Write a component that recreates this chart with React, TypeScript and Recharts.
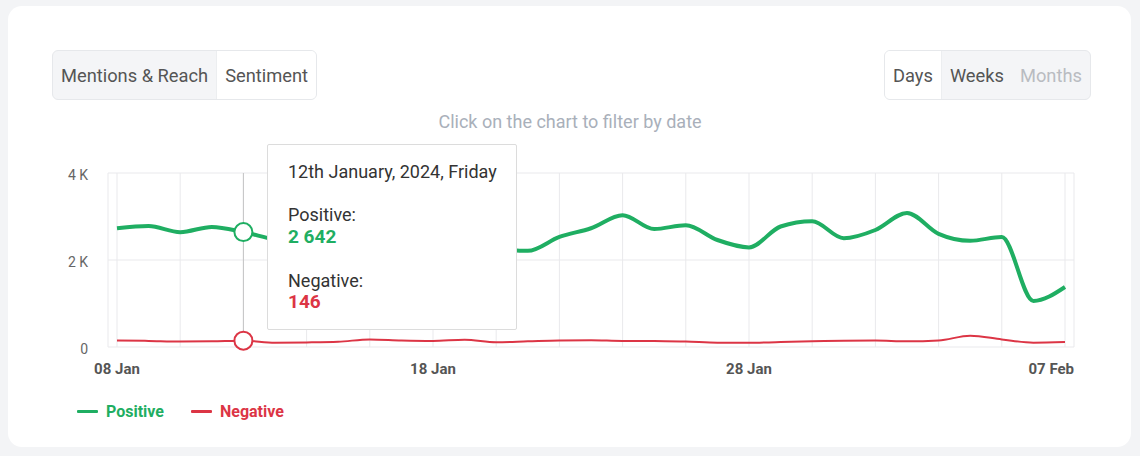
import React from "react";
import { LineChart, Line, XAxis, YAxis, CartesianGrid, Tooltip, Legend } from "recharts";

const dates = [
  "2024-01-08", "2024-01-09", "2024-01-10", "2024-01-11", "2024-01-12", "2024-01-13", "2024-01-14",
  "2024-01-15", "2024-01-16", "2024-01-17", "2024-01-18", "2024-01-19", "2024-01-20", "2024-01-21",
  "2024-01-22", "2024-01-23", "2024-01-24", "2024-01-25", "2024-01-26", "2024-01-27", "2024-01-28",
  "2024-01-29", "2024-01-30", "2024-01-31", "2024-02-01", "2024-02-02", "2024-02-03", "2024-02-04",
  "2024-02-05", "2024-02-06", "2024-02-07",
];
const positive = [
  2730, 2780, 2640, 2760, 2642, 2470, 2380, 2420, 2500, 2420, 2350, 2300, 2260, 2210,
  2530, 2730, 3030, 2710, 2800, 2460, 2290, 2770, 2890, 2500, 2690, 3080, 2600, 2440,
  2530, 1060, 1380,
];
const negative = [
  150, 140, 125, 130, 146, 100, 105, 120, 175, 150, 140, 165, 110, 130,
  150, 155, 140, 140, 125, 100, 95, 115, 130, 145, 150, 130, 150, 260,
  175, 100, 115,
];
const tickLabels = ["08 Jan", "18 Jan", "28 Jan", "07 Feb"];
const yTicks = [0, 2000, 4000];
const seriesNames = ["Positive", "Negative"];

const GREEN = "#1fae62";
const RED = "#dc3545";
const FONT = "Roboto, 'Noto Sans', sans-serif";

const MONTHS = ["January", "February", "March", "April", "May", "June", "July", "August", "September", "October", "November", "December"];
const MONTHS_SHORT = ["Jan", "Feb", "Mar", "Apr", "May", "Jun", "Jul", "Aug", "Sep", "Oct", "Nov", "Dec"];
const WEEKDAYS = ["Sunday", "Monday", "Tuesday", "Wednesday", "Thursday", "Friday", "Saturday"];

const toDate = (s: string) => new Date(s + "T00:00:00Z");
const shortLabel = (s: string) => {
  const d = toDate(s);
  return String(d.getUTCDate()).padStart(2, "0") + " " + MONTHS_SHORT[d.getUTCMonth()];
};
const ordinal = (n: number) => {
  if (n % 100 >= 11 && n % 100 <= 13) return n + "th";
  const r = n % 10;
  return n + (r === 1 ? "st" : r === 2 ? "nd" : r === 3 ? "rd" : "th");
};
const longLabel = (s: string) => {
  const d = toDate(s);
  return `${ordinal(d.getUTCDate())} ${MONTHS[d.getUTCMonth()]}, ${d.getUTCFullYear()}, ${WEEKDAYS[d.getUTCDay()]}`;
};
const fmtNum = (v: number) => String(v).replace(/\B(?=(\d{3})+(?!\d))/g, " ");

const data = dates.map((d, i) => ({ date: d, Positive: positive[i], Negative: negative[i] }));
const gridTicks = dates.filter((_, i) => i % 2 === 0);

const XTick = (props: any) => {
  const { x, y, payload } = props;
  const lbl = shortLabel(payload.value);
  if (!tickLabels.includes(lbl)) return null;
  const isLast = payload.value === dates[dates.length - 1];
  return (
    <text
      x={isLast ? x + 9 : x}
      y={y}
      dy={19}
      textAnchor={isLast ? "end" : "middle"}
      fill="#555"
      fontSize={15}
      fontWeight={700}
      fontFamily={FONT}
    >
      {lbl}
    </text>
  );
};

const TooltipBox = (props: any) => {
  const { active, payload, label } = props;
  if (!active || !payload || !payload.length) return null;
  const pos = payload.find((p: any) => p.dataKey === "Positive");
  const neg = payload.find((p: any) => p.dataKey === "Negative");
  const lab: React.CSSProperties = { fontSize: 18, color: "#333", lineHeight: "22px" };
  const val: React.CSSProperties = { fontSize: 19, fontWeight: 700, lineHeight: "22px" };
  return (
    <div
      style={{
        width: 250,
        height: 186,
        boxSizing: "border-box",
        background: "#fff",
        border: "1px solid #dcdcdc",
        borderRadius: 2,
        padding: "16px 0 0 20px",
        fontFamily: FONT,
        whiteSpace: "nowrap",
      }}
    >
      <div style={{ fontSize: 18, color: "#333", lineHeight: "22px" }}>{longLabel(label)}</div>
      <div style={{ ...lab, marginTop: 21 }}>Positive:</div>
      <div style={{ ...val, color: GREEN }}>{pos ? fmtNum(pos.value) : ""}</div>
      <div style={{ ...lab, marginTop: 22 }}>Negative:</div>
      <div style={{ ...val, color: RED, lineHeight: "20px" }}>{neg ? fmtNum(neg.value) : ""}</div>
    </div>
  );
};

const LegendBox = () => (
  <div style={{ display: "flex", alignItems: "center", fontFamily: FONT }}>
    {seriesNames.map((n, i) => {
      const c = i === 0 ? GREEN : RED;
      return (
        <div key={n} style={{ display: "flex", alignItems: "center", marginRight: 27 }}>
          <div style={{ width: 21, height: 3, background: c, borderRadius: 1, marginRight: 8 }} />
          <span style={{ color: c, fontWeight: 700, fontSize: 16 }}>{n}</span>
        </div>
      );
    })}
  </div>
);

const segBase: React.CSSProperties = {
  height: "100%",
  display: "flex",
  alignItems: "center",
  padding: "0 8px",
  fontSize: 18.3,
  fontWeight: 400,
  color: "#555",
};

export default function App() {
  return (
    <div style={{ position: "absolute", left: 0, top: 0, width: 1140, height: 456, background: "#f3f4f6", fontFamily: FONT, overflow: "hidden" }}>
      <div style={{ position: "absolute", left: 8, top: 6, width: 1123, height: 441, background: "#fff", borderRadius: 14 }} />

      <div style={{ position: "absolute", left: 52, top: 50, height: 50, boxSizing: "border-box", display: "flex", border: "1px solid #e6e8eb", borderRadius: 6, background: "#f4f5f7", overflow: "hidden" }}>
        <div style={segBase}>Mentions &amp; Reach</div>
        <div style={{ ...segBase, background: "#fff", borderLeft: "1px solid #eceef0" }}>Sentiment</div>
      </div>

      <div style={{ position: "absolute", left: 884, top: 50, height: 50, boxSizing: "border-box", display: "flex", border: "1px solid #e6e8eb", borderRadius: 6, background: "#f4f5f7", overflow: "hidden" }}>
        <div style={{ ...segBase, background: "#fff", borderRight: "1px solid #eceef0" }}>Days</div>
        <div style={segBase}>Weeks</div>
        <div style={{ ...segBase, color: "#b9bcc1" }}>Months</div>
      </div>

      <div style={{ position: "absolute", left: 0, top: 111, width: 1140, textAlign: "center", fontSize: 18, color: "#a9b0ba" }}>
        Click on the chart to filter by date
      </div>

      <div style={{ position: "absolute", left: 0, top: 0 }}>
        <LineChart width={1140} height={456} data={data} margin={{ top: 173, right: 66, bottom: 79, left: 0 }}>
          <CartesianGrid stroke="#e9e9ec" strokeWidth={1} />
          <XAxis
            dataKey="date"
            ticks={gridTicks}
            interval={0}
            tick={<XTick />}
            tickLine={false}
            axisLine={false}
            padding={{ left: 9, right: 9 }}
            height={30}
          />
          <YAxis
            domain={[0, 4000]}
            ticks={yTicks}
            width={108}
            tickLine={false}
            axisLine={false}
            tickMargin={14}
            tick={{ fill: "#666", fontSize: 14, fontFamily: FONT, dy: 2 }}
            tickFormatter={(v: number) => (v === 0 ? "0" : `${v / 1000} K`)}
          />
          <Tooltip
            content={<TooltipBox />}
            position={{ x: 267, y: 144 }}
            cursor={{ stroke: "#c4c4c4", strokeWidth: 1 }}
            isAnimationActive={false}
            defaultIndex={4}
            active={true}
            wrapperStyle={{ outline: "none" }}
          />
          <Legend
            content={<LegendBox />}
            layout="horizontal"
            verticalAlign="middle"
            align="center"
            wrapperStyle={{ left: 77, top: 402, width: 300 }}
          />
          <Line
            type="monotone"
            dataKey="Positive"
            stroke={GREEN}
            strokeWidth={4}
            dot={false}
            activeDot={{ r: 9, fill: "#fff", stroke: GREEN, strokeWidth: 2 }}
            isAnimationActive={false}
          />
          <Line
            type="monotone"
            dataKey="Negative"
            stroke={RED}
            strokeWidth={2}
            dot={false}
            activeDot={{ r: 9, fill: "#fff", stroke: RED, strokeWidth: 2 }}
            isAnimationActive={false}
          />
        </LineChart>
      </div>
    </div>
  );
}
